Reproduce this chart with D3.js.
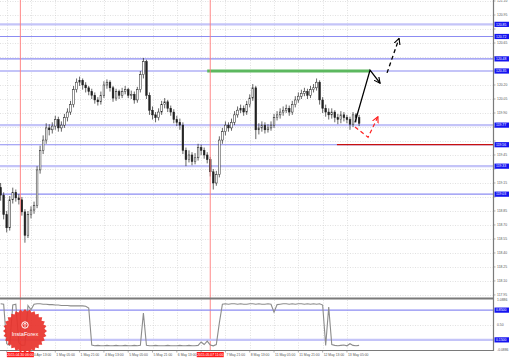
<!DOCTYPE html>
<html>
<head>
<meta charset="utf-8">
<script src="https://cdn.jsdelivr.net/npm/d3@7"></script>
<style>
  body { margin: 0; background: #fff; }
  svg { display: block; font-family: "Liberation Sans", Arial, sans-serif; }
</style>
</head>
<body>
<div id="chart"></div>
<script>
// USDJPY H1 (drawn as 2h bars), 29 Apr - 13 May 2015
const closes = [119.02,118.81,118.67,118.97,119.05,118.99,118.97,118.84,118.59,118.81,
  118.86,118.91,119.29,119.50,119.61,119.74,119.72,119.76,119.83,119.74,
  119.77,119.85,119.91,119.99,120.15,120.23,120.25,120.20,120.17,120.13,
  120.09,120.04,120.02,120.09,120.20,120.23,120.17,120.06,120.13,120.09,
  120.13,120.15,120.09,120.10,120.04,120.15,120.31,120.45,120.09,119.93,
  119.88,119.85,119.91,119.99,120.02,119.95,119.91,119.83,119.80,119.77,
  119.50,119.40,119.45,119.38,119.42,119.53,119.50,119.45,119.40,119.27,
  119.15,119.24,119.61,119.70,119.77,119.74,119.80,119.88,119.93,119.95,
  119.91,119.99,120.06,120.17,119.72,119.74,119.77,119.72,119.74,119.77,
  119.85,119.88,119.91,119.93,119.95,119.91,119.99,120.04,120.08,120.11,
  120.13,120.09,120.15,120.17,120.23,120.04,119.95,119.91,119.88,119.91,
  119.85,119.83,119.88,119.85,119.83,119.78,119.88,119.85,119.79];
const highs = [119.15,119.05,118.85,119.01,119.10,119.08,119.03,119.00,118.87,118.85,
  118.90,118.95,119.33,119.55,119.66,119.79,119.78,119.80,119.87,119.86,
  119.81,119.89,119.95,120.03,120.19,120.27,120.29,120.27,120.23,120.19,
  120.16,120.12,120.07,120.13,120.24,120.26,120.25,120.19,120.16,120.15,
  120.17,120.19,120.17,120.14,120.13,120.18,120.35,120.49,120.47,120.12,
  119.97,119.91,119.95,120.03,120.06,120.04,119.98,119.94,119.87,119.84,
  119.80,119.53,119.50,119.48,119.47,119.57,119.56,119.53,119.48,119.43,
  119.30,119.28,119.65,119.74,119.81,119.80,119.84,119.92,119.97,119.99,
  119.98,120.03,120.10,120.21,120.19,119.79,119.81,119.80,119.78,119.81,
  119.89,119.92,119.95,119.97,119.99,119.98,120.03,120.08,120.12,120.15,
  120.17,120.16,120.19,120.21,120.27,120.25,120.07,119.99,119.95,119.95,
  119.93,119.89,119.92,119.91,119.88,119.86,119.91,119.90,119.88];
const lows = [118.96,118.76,118.62,118.64,118.93,118.95,118.92,118.80,118.51,118.56,
  118.77,118.82,118.88,119.25,119.46,119.57,119.66,119.68,119.72,119.70,
  119.70,119.74,119.81,119.88,119.96,120.12,120.19,120.15,120.12,120.09,
  120.05,120.00,119.98,119.99,120.06,120.16,120.13,120.02,120.03,120.05,
  120.06,120.10,120.06,120.05,120.00,120.01,120.12,120.27,120.05,119.88,
  119.83,119.80,119.82,119.88,119.95,119.91,119.87,119.79,119.76,119.72,
  119.46,119.33,119.37,119.34,119.35,119.39,119.45,119.41,119.36,119.22,
  119.08,119.12,119.21,119.57,119.66,119.70,119.71,119.77,119.85,119.90,
  119.87,119.88,119.96,120.03,119.62,119.67,119.70,119.68,119.69,119.71,
  119.74,119.82,119.84,119.87,119.90,119.87,119.88,119.96,120.01,120.05,
  120.08,120.05,120.06,120.12,120.14,119.99,119.90,119.86,119.83,119.84,
  119.80,119.78,119.79,119.81,119.79,119.72,119.75,119.80,119.76];
const firstOpen = 119.10;

// oscillator (lower pane)
const osc = [1.00,0.99,0.06,0.02,0.97,0.99,0.08,0.02,0.03,0.96,
  0.86,0.99,1.00,1.00,0.99,0.99,0.98,0.98,0.97,0.97,
  0.96,0.96,0.96,0.95,0.95,0.95,0.95,0.95,0.94,0.90,
  0.03,0.01,0.02,0.01,0.01,0.02,0.01,0.01,0.02,0.01,
  0.01,0.02,0.01,0.01,0.02,0.01,0.02,0.78,0.02,0.01,
  0.01,0.02,0.01,0.01,0.01,0.02,0.01,0.01,0.01,0.02,
  0.01,0.01,0.02,0.01,0.01,0.02,0.10,0.04,0.12,0.03,
  0.01,0.04,0.55,0.99,1.00,0.99,1.00,1.00,0.99,1.00,
  0.99,0.99,1.00,1.00,0.99,1.00,0.99,0.99,1.00,0.99,
  0.80,0.98,0.99,1.00,1.00,0.99,1.00,0.99,1.00,1.00,
  0.99,1.00,0.99,1.00,0.99,1.00,0.97,0.02,0.92,0.04,
  0.02,0.01,0.02,0.03,0.01,0.06,0.02,0.01,0.02];

const firstHour = -20, barStep = 2;   // trading hours from "30 Apr 13:00"

const priceTicks = [121.10,120.95,120.80,120.65,120.50,120.35,120.20,120.05,119.90,119.75,
  119.60,119.45,119.30,119.15,119.00,118.85,118.70,118.55,118.40,118.25,118.10,117.95];
const timeTickHours = [-16,0,16,32,48,64,80,96,112,128,144,160,176,192,208];
const timeLabels = ["29 Apr 21:00","30 Apr 13:00","1 May 05:00","1 May 21:00","4 May 13:00","5 May 05:00",
  "5 May 21:00","6 May 13:00","7 May 05:00","7 May 21:00","8 May 13:00","11 May 05:00",
  "11 May 21:00","12 May 13:00","13 May 05:00"];

const wideLevels = [120.85, 120.35, 119.77, 119.33];
const thinLevels = [120.72, 120.48, 119.56, 119.03];

const markerHours = [-7, 118];
const markerLabels = ["2015.04.30 06:00", "2015.05.07 11:00"];

const greenLine = { from: 116, to: 223, price: 120.35 };
const redLine = { from: 201.4, price: 119.56 };

const mainArrow = [[213.3,119.80],[223.2,120.36],[229.8,120.22]];
const dashArrow = [[234.4,120.33],[242.3,120.70]];
const redArrow = [[213.3,119.75],[221.9,119.64],[228.4,119.86]];

const oscLevels = [0.85, 0.15];
const oscLabels = ["1.0886", "0.50", "-0.0886"];
const oscLabelValues = [1.0886, 0.5, -0.0886];

// ---------------------------------------------------------------
const W = 510, H = 358;
const plotRight = 493;
const mainTop = 0, mainBottom = 297;
const oscTop = 300, oscBottom = 350;

const x = d3.scaleLinear().domain([0, 208]).range([31, 31 + 208 * 1.519]);
const y = d3.scaleLinear().domain([117.928, 121.111]).range([mainBottom, mainTop]);
const yo = d3.scaleLinear().domain([-0.0886, 1.0886]).range([oscBottom, oscTop]);

const bars = closes.map((c, i) => ({
  h: firstHour + barStep * i,
  o: i === 0 ? firstOpen : closes[i - 1],
  c: c, hi: highs[i], lo: lows[i], osc: osc[i]
}));

const svg = d3.select('#chart').append('svg')
  .attr('width', W).attr('height', H);

const defs = svg.append('defs');
defs.append('clipPath').attr('id', 'clipMain')
  .append('rect').attr('x', 0).attr('y', mainTop).attr('width', plotRight).attr('height', mainBottom - mainTop);
defs.append('clipPath').attr('id', 'clipOsc')
  .append('rect').attr('x', 0).attr('y', oscTop).attr('width', plotRight).attr('height', oscBottom - oscTop);

function arrowMarker(id, color) {
  defs.append('marker').attr('id', id)
    .attr('viewBox', '0 0 8 8').attr('refX', 7).attr('refY', 4)
    .attr('markerWidth', 7).attr('markerHeight', 7)
    .attr('markerUnits', 'userSpaceOnUse').attr('orient', 'auto')
    .append('path').attr('d', 'M0,0.5 L7,4 L0,7.5')
    .attr('fill', 'none').attr('stroke', color).attr('stroke-width', 1.3);
}
arrowMarker('arBlack', '#000');
arrowMarker('arRed', '#ff2020');

// grid
const grid = svg.append('g').attr('stroke', '#cccccc').attr('stroke-width', 0.6)
  .attr('stroke-dasharray', '1,1.5');
grid.selectAll('.hg').data(priceTicks).join('line')
  .attr('x1', 0).attr('x2', plotRight)
  .attr('y1', d => Math.round(y(d)) + 0.5).attr('y2', d => Math.round(y(d)) + 0.5);
grid.selectAll('.vg').data(timeTickHours).join('line')
  .attr('x1', d => Math.round(x(d)) + 0.5).attr('x2', d => Math.round(x(d)) + 0.5)
  .attr('y1', mainTop).attr('y2', oscBottom);
grid.append('line').attr('x1', 0).attr('x2', plotRight)
  .attr('y1', Math.round(yo(0.5)) + 0.5).attr('y2', Math.round(yo(0.5)) + 0.5);

// level lines
const main = svg.append('g').attr('clip-path', 'url(#clipMain)');
main.selectAll('.wl').data(wideLevels).join('line')
  .attr('x1', 0).attr('x2', plotRight)
  .attr('y1', d => y(d)).attr('y2', d => y(d))
  .attr('stroke', '#c4c4f8').attr('stroke-width', 2.2);
main.selectAll('.tl').data(thinLevels).join('line')
  .attr('x1', 0).attr('x2', plotRight)
  .attr('y1', d => y(d)).attr('y2', d => y(d))
  .attr('stroke', '#8c8cf2').attr('stroke-width', 1.1);

// vertical red markers
svg.selectAll('.vm').data(markerHours).join('line')
  .attr('x1', d => x(d)).attr('x2', d => x(d))
  .attr('y1', mainTop).attr('y2', oscBottom)
  .attr('stroke', '#ff7a7a').attr('stroke-width', 0.9);

// green and red horizontals
main.append('line')
  .attr('x1', x(greenLine.from)).attr('x2', x(greenLine.to))
  .attr('y1', y(greenLine.price)).attr('y2', y(greenLine.price))
  .attr('stroke', '#5cb85f').attr('stroke-width', 3);
main.append('line')
  .attr('x1', x(redLine.from)).attr('x2', plotRight)
  .attr('y1', y(redLine.price)).attr('y2', y(redLine.price))
  .attr('stroke', '#c81010').attr('stroke-width', 1.3);

// candles
const bw = 1.7;
const candles = main.selectAll('.cd').data(bars).join('g');
candles.append('line')
  .attr('x1', d => x(d.h)).attr('x2', d => x(d.h))
  .attr('y1', d => y(d.hi)).attr('y2', d => y(d.lo))
  .attr('stroke', '#222').attr('stroke-width', 0.7);
candles.append('rect')
  .attr('x', d => x(d.h) - bw / 2)
  .attr('y', d => y(Math.max(d.o, d.c)))
  .attr('width', bw)
  .attr('height', d => Math.max(0.6, Math.abs(y(d.o) - y(d.c))))
  .attr('fill', d => d.c >= d.o ? '#fff' : '#222')
  .attr('stroke', '#222').attr('stroke-width', 0.5);

// arrows
const pline = d3.line().x(d => x(d[0])).y(d => y(d[1]));
main.append('path').attr('d', pline(mainArrow))
  .attr('fill', 'none').attr('stroke', '#000').attr('stroke-width', 1.3)
  .attr('marker-end', 'url(#arBlack)');
main.append('path').attr('d', pline(dashArrow))
  .attr('fill', 'none').attr('stroke', '#000').attr('stroke-width', 1.3)
  .attr('stroke-dasharray', '4,3').attr('marker-end', 'url(#arBlack)');
main.append('path').attr('d', pline(redArrow))
  .attr('fill', 'none').attr('stroke', '#ff2020').attr('stroke-width', 1.2)
  .attr('stroke-dasharray', '4,3').attr('marker-end', 'url(#arRed)');

// oscillator pane
const oscG = svg.append('g').attr('clip-path', 'url(#clipOsc)');
oscG.append('line').attr('x1', 0).attr('x2', plotRight)
  .attr('y1', yo(oscLevels[0])).attr('y2', yo(oscLevels[0]))
  .attr('stroke', '#8c8cf2').attr('stroke-width', 1.1);
oscG.append('line').attr('x1', 0).attr('x2', plotRight)
  .attr('y1', yo(oscLevels[1])).attr('y2', yo(oscLevels[1]))
  .attr('stroke', '#c4c4f8').attr('stroke-width', 2.2);
oscG.append('path')
  .attr('d', d3.line().x(d => x(d.h)).y(d => yo(d.osc))(bars))
  .attr('fill', 'none').attr('stroke', '#8c8c8c').attr('stroke-width', 1.1);

// frame
svg.append('line').attr('x1', 0).attr('x2', plotRight).attr('y1', 298.5).attr('y2', 298.5)
  .attr('stroke', '#7a7a7a').attr('stroke-width', 1.8);
svg.append('line').attr('x1', 0).attr('x2', plotRight + 1).attr('y1', oscBottom + 0.5).attr('y2', oscBottom + 0.5)
  .attr('stroke', '#7a7a7a').attr('stroke-width', 1.2);
svg.append('line').attr('x1', plotRight + 0.5).attr('x2', plotRight + 0.5).attr('y1', 0).attr('y2', oscBottom + 1)
  .attr('stroke', '#7a7a7a').attr('stroke-width', 1.2);

// price axis (tick labels under a level box are hidden, as in the terminal)
const boxLevels = wideLevels.concat(thinLevels);
const axisG = svg.append('g').attr('font-size', 3.4).attr('fill', '#555');
const shownTicks = priceTicks.filter(t => !boxLevels.some(b => Math.abs(y(b) - y(t)) < 5));
axisG.selectAll('.pt').data(shownTicks).join('text')
  .attr('x', plotRight + 4).attr('y', d => y(d) + 1.2).text(d => d.toFixed(2));
axisG.selectAll('.ptk').data(priceTicks).join('line')
  .attr('x1', plotRight).attr('x2', plotRight + 2.5)
  .attr('y1', d => y(d)).attr('y2', d => y(d)).attr('stroke', '#7a7a7a').attr('stroke-width', 0.6);

function valueBox(yy, label, fill) {
  axisG.append('rect').attr('x', plotRight + 1.5).attr('y', yy - 2.6)
    .attr('width', 14.5).attr('height', 5.2).attr('fill', fill);
  axisG.append('text').attr('x', plotRight + 3).attr('y', yy + 1.2)
    .attr('fill', '#fff').text(label);
}
boxLevels.forEach(p => valueBox(y(p), p.toFixed(2), '#1414f0'));

oscLabels.forEach((t, i) => {
  axisG.append('text').attr('x', plotRight + 4).attr('y', yo(oscLabelValues[i]) + 1.2).text(t);
});
oscLevels.forEach(v => valueBox(yo(v), v.toFixed(4), '#1414f0'));

// time axis (labels starting under a marker box are not drawn)
const tG = svg.append('g').attr('font-size', 3.4).attr('fill', '#555');
const shownTimes = timeTickHours.map((h, i) => ({ h: h, t: timeLabels[i] }))
  .filter(d => !markerHours.some(m => {
    const dx = x(d.h) - x(m);
    return dx > -20 && dx < 10;
  }));
tG.selectAll('.tl').data(shownTimes).join('text')
  .attr('x', d => x(d.h) + 1).attr('y', 355.5)
  .text(d => d.t);
tG.selectAll('.tk').data(timeTickHours).join('line')
  .attr('x1', d => x(d)).attr('x2', d => x(d)).attr('y1', oscBottom).attr('y2', oscBottom + 2.5)
  .attr('stroke', '#7a7a7a').attr('stroke-width', 0.6);
markerHours.forEach((h, i) => {
  tG.append('rect').attr('x', x(h) - 13.5).attr('y', 352).attr('width', 27).attr('height', 5.2)
    .attr('fill', '#ff1a1a');
  tG.append('text').attr('x', x(h)).attr('y', 355.7).attr('text-anchor', 'middle')
    .attr('fill', '#fff').text(markerLabels[i]);
});

// InstaForex badge
const logo = svg.append('g').attr('transform', 'translate(25,331)');
const teeth = 28;
const badgePts = d3.range(teeth * 2).map(k => {
  const a = k * Math.PI / teeth;
  const r = k % 2 === 0 ? 22 : 19.5;
  return [r * Math.sin(a), -r * Math.cos(a)];
});
logo.append('path').attr('d', d3.line().curve(d3.curveLinearClosed)(badgePts))
  .attr('fill', '#e8322b').attr('opacity', 0.92);
logo.append('circle').attr('cx', 0).attr('cy', -6).attr('r', 3.2)
  .attr('fill', 'none').attr('stroke', '#fff').attr('stroke-width', 1);
logo.append('path').attr('d', 'M0,-7.8 L0,-3.6 M-1.6,-6.6 L0,-7.8 L1.6,-6.6')
  .attr('fill', 'none').attr('stroke', '#fff').attr('stroke-width', 0.8);
logo.append('text').attr('x', 0).attr('y', 4.5).attr('text-anchor', 'middle')
  .attr('font-size', 5.6).attr('fill', '#fff').text('InstaForex');
</script>
</body>
</html>
